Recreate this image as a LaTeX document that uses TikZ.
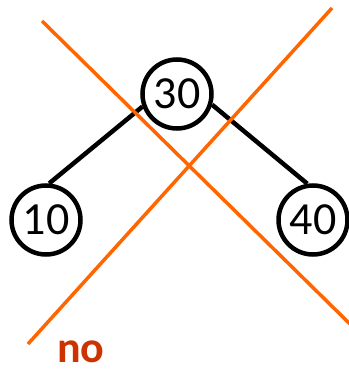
\documentclass[tikz,border=0pt]{standalone}
\usepackage{fontspec}
\setmainfont{Carlito}
\usetikzlibrary{positioning}
\usepackage{xcolor}
\definecolor{crossorange}{RGB}{255, 102, 0}
\definecolor{notered}{RGB}{204, 51, 0}

\begin{document}
\begin{tikzpicture}[
    x=1pt, y=-1pt,
    keynode/.style={circle, draw, line width=4.5pt, minimum size=69pt, inner sep=0pt, font=\fontsize{46}{46}\selectfont},
    edge/.style={line width=4.5pt},
    cross/.style={crossorange, line width=3.5pt},
    verdict/.style={text=notered, inner sep=0pt, anchor=base, font=\fontsize{44}{44}\selectfont\bfseries}
]
\useasboundingbox (0,0) rectangle (348,372);

\node[keynode] (n30) at (177,94) {30};
\node[keynode, on grid, below left=126pt and 131pt of n30] (n10) {10};
\node[keynode, on grid, below right=126pt and 136pt of n30] (n40) {40};

\draw[edge] (n30.200) -- (n10.85);
\draw[edge] (n30.-17) -- (n40.99);

% the cross over the tree
\coordinate (c1a) at (42,21);
\coordinate (c1b) at (350,324);
\coordinate (c2a) at (332,8);
\coordinate (c2b) at (28,344);
\draw[cross] (c1a) -- (c1b);
\draw[cross] (c2a) -- (c2b);

\node[verdict] (no) at (81,362) {no};

\end{tikzpicture}
\end{document}
